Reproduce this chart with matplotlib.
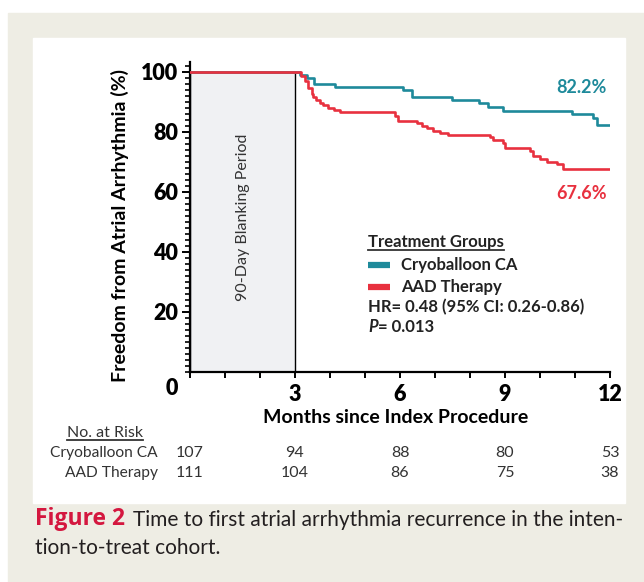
import matplotlib.pyplot as plt
from matplotlib.patches import Rectangle
from matplotlib.lines import Line2D
from matplotlib.transforms import blended_transform_factory

plt.rcParams['font.family'] = ['Lato', 'DejaVu Sans']

teal = '#1E8A9B'
red = '#E8313F'
beige = '#EEEDE4'

# KM curves (months, % free from AF)
cryo_t = [0, 3.15, 3.35, 3.55, 4.14, 6.09, 6.33, 7.48, 8.27, 8.50, 8.95, 10.90, 11.52, 11.62, 12]
cryo_s = [100, 98.9, 98.0, 95.8, 94.9, 93.8, 91.6, 90.5, 89.4, 88.3, 86.9, 85.8, 84.7, 82.2, 82.2]
aad_t = [0, 3.16, 3.29, 3.38, 3.48, 3.52, 3.60, 3.71, 3.81, 3.95, 4.10, 4.29, 5.86, 5.95, 6.48,
         6.62, 6.76, 6.95, 7.14, 7.37, 8.57, 8.67, 8.95, 9.00, 9.71, 9.81, 10.00, 10.19, 10.48, 10.67, 12]
aad_s = [100, 98.6, 96.9, 94.7, 92.5, 91.4, 90.5, 89.7, 88.8, 88.0, 87.2, 86.4, 85.3, 83.6, 82.9,
         82.0, 81.1, 80.3, 79.4, 78.8, 78.1, 77.2, 76.1, 74.5, 73.4, 72.0, 70.9, 70.0, 69.2, 67.6, 67.6]

groups = ['Cryoballoon CA', 'AAD Therapy']
risk_months = [0, 3, 6, 9, 12]
cryo_risk = [107, 94, 88, 80, 53]
aad_risk = [111, 104, 86, 75, 38]
final_labels = ['82.2%', '67.6%']

W, H = 644, 582
fig = plt.figure(figsize=(W / 100, H / 100), dpi=100)


def fx(px):
    return px / W


def fy(py):
    return 1 - py / H


# page background + white panel
fig.patches.append(Rectangle((fx(8), 0), 1 - fx(8), 1 - 13 / H, transform=fig.transFigure,
                             color=beige, zorder=-2))
fig.patches.append(Rectangle((fx(33), fy(503)), fx(625 - 33), (503 - 38) / H,
                             transform=fig.transFigure, color='white', zorder=-1))

ax = fig.add_axes([fx(190), fy(371.7), fx(610 - 190), (371.7 - 61.7) / H])
ax.patch.set_alpha(0)

# blanking period
ax.add_patch(Rectangle((0, 0), 3, 100, fc='#F0F1F3', ec='black', lw=1, zorder=1))
ax.text(1.5, 51.5, '90-Day Blanking Period', rotation=90, ha='center', va='center',
        fontsize=11.5, color='#333333')

ax.step(cryo_t, cryo_s, where='post', color=teal, lw=1.9, zorder=3)
ax.step(aad_t, aad_s, where='post', color=red, lw=1.9, zorder=4)

ax.text(11.9, 94.6, final_labels[0], ha='right', va='center', fontsize=13, fontweight='bold', color=teal)
ax.text(11.9, 59.3, final_labels[1], ha='right', va='center', fontsize=13, fontweight='bold', color=red)

ax.set_xlim(0, 12)
ax.set_ylim(0, 103.3)
for s in ['top', 'right']:
    ax.spines[s].set_visible(False)
for s in ['left', 'bottom']:
    ax.spines[s].set_linewidth(1.6)

ax.set_xticks([3, 6, 9, 12])
ax.set_xticks(range(13), minor=True)
ax.set_yticks([20, 40, 60, 80, 100])
ax.set_yticks(range(0, 103, 2), minor=True)
ax.tick_params(axis='x', which='both', length=4, width=1.4, pad=5, labelsize=15.5)
ax.tick_params(axis='y', which='major', length=6, width=1.4, pad=2.5, labelsize=15.5)
ax.tick_params(axis='y', which='minor', length=3.5, width=1.2)
for lab in ax.get_xticklabels() + ax.get_yticklabels():
    lab.set_fontweight('heavy')
ax.text(-0.044, -0.054, '0', transform=ax.transAxes, ha='center', va='center',
        fontsize=15.5, fontweight='heavy')

ax.set_xlabel('Months since Index Procedure', fontsize=14, fontweight='bold', va='center')
ax.xaxis.set_label_coords(0.49, -0.149)
ax.set_ylabel('Freedom from Atrial Arrhythmia (%)', fontsize=14, fontweight='bold', va='center')
ax.yaxis.set_label_coords(-0.167, 0.47)

# legend block
lx = 5.09
t_title = ax.text(lx, 43.2, 'Treatment Groups', fontsize=12, fontweight='bold', va='center', color='#222222')
for i, (g, c) in enumerate(zip(groups, [teal, red])):
    yy = 35.7 - i * 7.5
    ax.plot([lx, lx + 0.63], [yy, yy], color=c, lw=4.5, solid_capstyle='butt')
    ax.text(6.02, yy, g, fontsize=12, fontweight='bold', va='center', color='#222222')
ax.text(lx, 21.6, 'HR= 0.48 (95% CI: 0.26-0.86)', fontsize=12, fontweight='bold', va='center', color='#222222')
t_p = ax.text(lx, 15.0, 'P', fontsize=12, fontweight='bold', style='italic', va='center', color='#222222')
ax.annotate('= 0.013', xy=(1, 0), xycoords=t_p, va='bottom', fontsize=12, fontweight='bold', color='#222222')

# number at risk table
t_risk = fig.text(fx(105), fy(433.3), 'No. at Risk', ha='center', va='center', fontsize=11.5, color='#333333')
tr = blended_transform_factory(ax.transData, fig.transFigure)
for row, (g, vals) in enumerate(zip(groups, [cryo_risk, aad_risk])):
    yy = fy(453.3 + row * 20)
    fig.text(fx(158), yy, g, ha='right', va='center', fontsize=11.2, color='#333333')
    for m, v in zip(risk_months, vals):
        ax.text(m, yy, str(v), transform=tr, ha='center', va='center', fontsize=11.5, color='#333333')

# caption
t_fig = fig.text(fx(35), fy(519), 'Figure 2', ha='left', va='center', fontsize=16.5,
                 fontweight='bold', color='#D4173F', family=['Open Sans', 'DejaVu Sans'])
fig.text(fx(35), fy(548), 'tion-to-treat cohort.', ha='left', va='center', fontsize=15, color='#231F20')
fig.canvas.draw()
bb = t_fig.get_window_extent()
fig.text((bb.x1 + 8) / W, fy(520), 'Time to first atrial arrhythmia recurrence in the inten-',
         ha='left', va='center', fontsize=15, color='#231F20')

# underlines
for t in [t_title, t_risk]:
    b = t.get_window_extent()
    fig.add_artist(Line2D([b.x0 / W, b.x1 / W], [b.y0 / H, b.y0 / H], transform=fig.transFigure,
                          color='#333333', lw=1.3))

fig.savefig('out.png', dpi=100)
